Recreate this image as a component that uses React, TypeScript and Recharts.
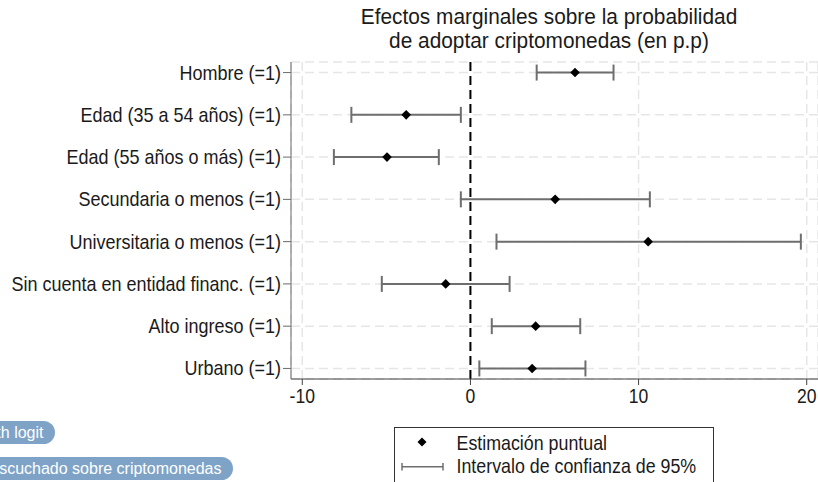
import React from 'react';
import { ScatterChart, Scatter, XAxis, YAxis, CartesianGrid, ReferenceLine, ErrorBar } from 'recharts';

const categories = [
  'Hombre (=1)',
  'Edad (35 a 54 años) (=1)',
  'Edad (55 años o más) (=1)',
  'Secundaria o menos (=1)',
  'Universitaria o menos (=1)',
  'Sin cuenta en entidad financ. (=1)',
  'Alto ingreso (=1)',
  'Urbano (=1)',
];
const estimates = [6.22, -3.82, -4.96, 5.04, 10.57, -1.47, 3.88, 3.67];
const ciLower = [3.94, -7.08, -8.12, -0.57, 1.55, -5.27, 1.27, 0.53];
const ciUpper = [8.51, -0.57, -1.88, 10.67, 19.65, 2.33, 6.53, 6.84];
const xTicks = [-10, 0, 10, 20];
const rowTicks = categories.map((_, i) => i + 1);

const titleLines = ['Efectos marginales sobre la probabilidad', 'de adoptar criptomonedas (en p.p)'];
const legendLabels = ['Estimación puntual', 'Intervalo de confianza de 95%'];
const tagLabels = ['with logit', 'Ha escuchado sobre criptomonedas'];

const data = categories.map((c, i) => ({
  row: i + 1,
  est: estimates[i],
  err: [estimates[i] - ciLower[i], ciUpper[i] - estimates[i]],
}));

const FONT = '"Liberation Sans", Arial, Helvetica, sans-serif';
const SX = 0.91;

const Diamond = (props: any) => {
  const { cx, cy } = props;
  if (cx == null || cy == null) return <g />;
  const r = 4.8;
  return <polygon points={`${cx},${cy - r} ${cx + r},${cy} ${cx},${cy + r} ${cx - r},${cy}`} fill="#000" />;
};

const Empty = () => <g />;

const YTick = (props: any) => {
  const { x, y, payload } = props;
  const label = categories[payload.value - 1] ?? '';
  return (
    <text
      transform={`translate(${x},${y}) scale(${SX},1)`}
      textAnchor="end"
      dy="0.355em"
      fontSize={19.8}
      fontFamily={FONT}
      fill="#1a1a1a"
    >
      {label}
    </text>
  );
};

const XTick = (props: any) => {
  const { x, y, payload } = props;
  return (
    <text
      transform={`translate(${x},${y}) scale(${SX},1)`}
      textAnchor="middle"
      dy="0.71em"
      fontSize={19.3}
      fontFamily={FONT}
      fill="#1a1a1a"
    >
      {payload.value}
    </text>
  );
};

export default function App() {
  return (
    <div style={{ position: 'absolute', left: 0, top: 0, width: 818, height: 482, overflow: 'hidden', background: '#fff', fontFamily: FONT }}>
      <svg width={818} height={60} style={{ position: 'absolute', left: 0, top: 0 }}>
        {titleLines.map((t, i) => (
          <text
            key={i}
            transform={`translate(549,${23.5 + i * 24.5}) scale(0.935,1)`}
            textAnchor="middle"
            fontSize={22.3}
            fontFamily={FONT}
            fill="#1a1a1a"
          >
            {t}
          </text>
        ))}
      </svg>
      <div style={{ position: 'absolute', left: 0, top: 0 }}>
        <ScatterChart width={818} height={482} margin={{ top: 62, right: 0, bottom: 73, left: 0 }}>
          <CartesianGrid stroke="#e6e6e6" strokeDasharray="9 5" strokeWidth={1.5} />
          <XAxis
            type="number"
            dataKey="est"
            domain={[-10.67, 20.67]}
            ticks={xTicks}
            interval={0}
            height={30}
            tickSize={6}
            tickMargin={4}
            stroke="#404040"
            tick={<XTick />}
          />
          <YAxis
            type="number"
            dataKey="row"
            domain={[0.75, 8.25]}
            reversed
            ticks={rowTicks}
            interval={0}
            width={291}
            tickSize={8}
            tickMargin={2}
            stroke="#6a6a6a"
            tick={<YTick />}
          />
          <Scatter data={data} shape={Empty} isAnimationActive={false}>
            <ErrorBar dataKey="err" direction="x" stroke="#6e6e6e" strokeWidth={2} width={8} isAnimationActive={false} />
          </Scatter>
          <ReferenceLine x={0} stroke="#000" strokeWidth={2} strokeDasharray="9 5" />
          <Scatter data={data} shape={Diamond} isAnimationActive={false} />
        </ScatterChart>
      </div>
      {tagLabels.map((t, i) => (
        <div
          key={i}
          style={{
            position: 'absolute',
            right: 818 - (i === 0 ? 55 : 233),
            top: i === 0 ? 420.5 : 457,
            height: 23,
            lineHeight: '23px',
            padding: '0 11.5px 0 12px',
            borderRadius: 11.5,
            background: '#7ea3c7',
            color: '#fff',
            fontSize: 16,
            whiteSpace: 'nowrap',
            fontFamily: FONT,
          }}
        >
          {t}
        </div>
      ))}
      <div
        style={{
          position: 'absolute',
          left: 394,
          top: 427,
          width: 320,
          height: 80,
          border: '1px solid #333',
          boxSizing: 'border-box',
        }}
      />
      <svg width={818} height={482} style={{ position: 'absolute', left: 0, top: 0, pointerEvents: 'none' }}>
        <polygon points="422,437.5 426.5,442 422,446.5 417.5,442" fill="#000" />
        <line x1={402} y1={466.7} x2={443} y2={466.7} stroke="#6e6e6e" strokeWidth={1.5} />
        <line x1={402} y1={463} x2={402} y2={470.5} stroke="#6e6e6e" strokeWidth={1.5} />
        <line x1={443} y1={463} x2={443} y2={470.5} stroke="#6e6e6e" strokeWidth={1.5} />
        {legendLabels.map((t, i) => (
          <text
            key={i}
            transform={`translate(456.5,${449.5 + i * 23.5}) scale(${SX},1)`}
            fontSize={19.6}
            fontFamily={FONT}
            fill="#1a1a1a"
          >
            {t}
          </text>
        ))}
      </svg>
    </div>
  );
}
